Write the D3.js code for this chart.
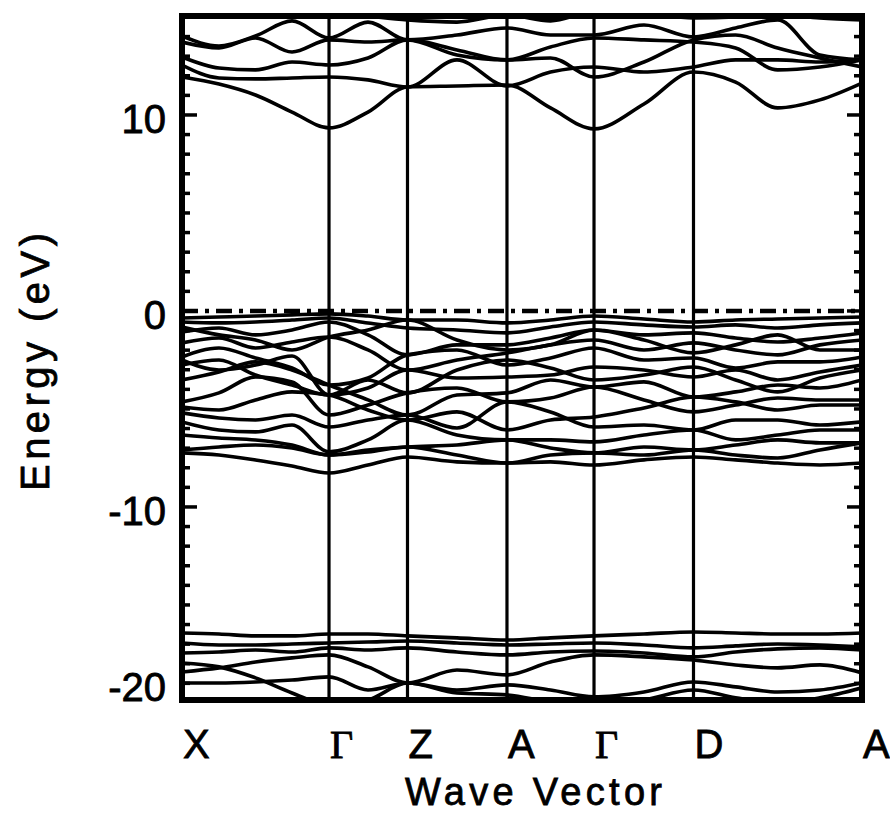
<!DOCTYPE html>
<html>
	<head>
		<meta charset="utf-8">
		<title>Band structure</title>
		<script src="https://d3js.org/d3.v7.min.js"></script>
		<style>
			body { margin: 0; background: #fff; }
			svg { display: block; }
		</style>
	</head>
	<body>

		<div class="main_div"></div>
		<script>

			// High symmetry points along the path (fraction of path length)
			var kLabels = ["X", "Γ", "Z", "A", "Γ", "D", "A"];
			var kPoints = [0, 0.2162, 0.3316, 0.4779, 0.6059, 0.7522, 1];

			var kGrid = [0, 0.0544, 0.1081, 0.1618, 0.2162, 0.2735, 0.3316, 0.4044, 0.4779,
						 0.5419, 0.6059, 0.6794, 0.7522, 0.8141, 0.8760, 0.9381, 1];

			// Conduction bands (eV)
			var cb1 = [11.94, 11.58, 11.02, 10.15, 9.34, 10.15, 11.43, 11.48, 11.53, 10.36, 9.29, 10.56, 12.19, 11.68, 10.36, 10.77, 11.63];
			var cb2 = [12.55, 11.89, 11.84, 11.89, 11.94, 11.79, 11.43, 12.81, 11.48, 12.19, 12.45, 12.19, 12.45, 12.81, 12.81, 12.70, 12.81];
			var cb3 = [12.96, 12.40, 12.30, 12.70, 12.55, 12.91, 13.83, 13.06, 12.81, 13.47, 13.93, 13.83, 13.72, 13.42, 12.30, 12.45, 12.81];
			var cb4 = [13.72, 13.42, 13.93, 13.21, 13.83, 13.72, 13.83, 13.32, 12.81, 12.91, 11.94, 12.70, 13.83, 14.08, 13.42, 12.91, 12.45];
			var cb5 = [14.03, 13.52, 14.03, 14.80, 13.93, 14.74, 13.83, 14.08, 14.44, 14.08, 14.08, 14.59, 13.98, 14.44, 14.85, 13.06, 12.81];
			var cb6 = [15.36, 15.26, 15.15, 15.10, 15.26, 15.05, 14.85, 14.74, 15.10, 14.80, 15.26, 15.15, 14.95, 15.00, 15.15, 14.95, 14.85];

			// Valence bands (eV)
			var v1  = [-0.36, -0.31, -0.26, -0.20, -0.15, -0.26, -0.46, -0.46, -0.61, -0.46, -0.26, -0.41, -0.56, -0.46, -0.41, -0.36, -0.31];
			var v2  = [-0.56, -0.61, -0.56, -0.46, -0.36, -0.61, -0.87, -0.97, -1.12, -0.82, -0.56, -0.71, -0.82, -0.71, -0.87, -0.71, -0.61];
			var v3  = [-1.07, -0.87, -1.22, -0.97, -0.56, -1.22, -2.24, -1.73, -1.73, -1.38, -0.97, -1.22, -1.12, -1.38, -1.58, -1.38, -1.12];
			var v4  = [-1.63, -1.38, -1.89, -1.58, -1.33, -1.99, -3.01, -2.50, -2.14, -1.73, -1.48, -1.99, -1.63, -1.99, -2.24, -1.73, -1.48];
			var v5  = [-2.35, -1.89, -2.40, -2.91, -3.78, -3.42, -2.24, -1.99, -2.76, -2.40, -1.89, -2.50, -2.40, -2.91, -2.60, -2.60, -2.35];
			var v6  = [-2.50, -3.01, -2.76, -2.30, -4.29, -3.93, -3.01, -3.42, -3.37, -3.27, -2.86, -3.01, -3.37, -3.01, -3.52, -3.11, -2.76];
			var v7  = [-3.52, -3.11, -2.60, -3.01, -3.78, -4.54, -5.31, -4.29, -4.18, -3.52, -3.88, -3.62, -4.39, -4.13, -3.78, -3.93, -3.52];
			var v8  = [-4.64, -4.18, -3.37, -3.62, -5.31, -4.80, -4.18, -3.93, -4.64, -4.44, -3.88, -4.54, -5.15, -4.80, -4.44, -4.54, -4.54];
			var v9  = [-4.90, -5.05, -4.54, -4.13, -4.29, -5.05, -5.56, -5.15, -6.07, -5.56, -5.41, -4.95, -4.39, -4.64, -5.05, -4.80, -4.80];
			var v10 = [-5.20, -5.46, -5.56, -5.31, -5.92, -5.56, -5.31, -5.97, -4.64, -5.15, -5.92, -5.82, -6.07, -5.56, -5.56, -5.82, -5.66];
			var v11 = [-5.66, -6.07, -6.17, -5.82, -7.19, -6.58, -5.56, -6.33, -6.58, -6.58, -6.68, -6.33, -6.07, -6.58, -6.33, -6.07, -6.07];
			var v12 = [-6.33, -6.48, -6.58, -6.84, -7.35, -7.09, -6.94, -6.84, -6.58, -6.99, -7.24, -6.94, -7.09, -6.84, -6.58, -6.73, -6.73];
			var v13 = [-7.09, -6.94, -6.84, -6.99, -7.35, -7.19, -6.94, -7.35, -7.76, -7.35, -7.24, -7.35, -7.09, -7.35, -7.50, -7.09, -6.73];
			var v14 = [-7.24, -7.35, -7.60, -7.91, -8.27, -7.86, -7.45, -7.70, -7.76, -7.70, -7.86, -7.60, -7.45, -7.60, -7.76, -7.86, -7.76];
			var v15 = [-0.82, -1.22, -1.48, -1.99, -1.33, -0.97, -0.46, -1.48, -1.99, -1.73, -0.97, -1.48, -2.14, -1.73, -1.22, -1.99, -1.99];
			var v16 = [-2.76, -2.50, -3.27, -3.78, -4.29, -3.52, -4.18, -3.01, -2.50, -2.91, -3.52, -3.27, -2.86, -3.52, -4.13, -3.42, -3.01];

			// Semicore bands (eV)
			var s1 = [-16.43, -16.48, -16.58, -16.58, -16.48, -16.48, -16.58, -16.68, -16.79, -16.68, -16.58, -16.48, -16.38, -16.43, -16.48, -16.48, -16.43];
			var s2 = [-16.94, -17.04, -17.04, -16.99, -16.94, -16.89, -16.84, -16.94, -17.04, -16.99, -16.94, -17.04, -17.19, -17.09, -16.99, -17.04, -17.14];
			var s3 = [-17.45, -17.40, -17.30, -17.40, -17.19, -17.30, -17.19, -17.40, -17.55, -17.40, -17.35, -17.45, -17.65, -17.40, -17.24, -17.19, -17.30];
			var s4 = [-18.42, -18.21, -17.91, -17.70, -17.55, -18.16, -18.98, -18.32, -18.57, -17.91, -17.55, -17.65, -17.81, -18.06, -18.21, -18.06, -18.47];
			var s5 = [-17.96, -18.16, -18.72, -19.49, -20.10, -19.85, -18.98, -19.34, -19.08, -19.34, -19.69, -19.44, -18.93, -19.18, -19.44, -19.34, -18.98];
			var s6 = [-18.98, -18.98, -18.93, -18.83, -18.67, -19.34, -18.98, -19.49, -19.59, -19.95, -20.15, -19.85, -19.34, -19.74, -20.00, -19.74, -19.23];

			var bands = [cb1, cb2, cb3, cb4, cb5, cb6,
						 v1, v2, v3, v4, v5, v6, v7, v8, v9, v10, v11, v12, v13, v14, v15, v16,
						 s1, s2, s3, s4, s5, s6];

			// Axis
			var yTickLabels = [10, 0, -10, -20];
			var yDomain = [-19.85, 15.05];
			var fermiLevel = 0;

			// Svg
			var W = 890, H = 815;
			var box = {left: 182, right: 862, top: 16, bottom: 700};
			var font = "'Liberation Sans', Arial, sans-serif";

			var svg = d3.select(".main_div")
						.append("svg")
						.attr("width", W)
						.attr("height", H)
						.style("background", "#fff");

			// Escalas
			var xScale = d3.scaleLinear().domain([0, 1]).range([box.left, box.right]);
			var yScale = d3.scaleLinear().domain(yDomain).range([box.bottom, box.top]);

			svg.append("clipPath").attr("id", "plotClip")
				.append("rect")
				.attr("x", box.left).attr("y", box.top)
				.attr("width", box.right - box.left).attr("height", box.bottom - box.top);

			var plot = svg.append("g").attr("clip-path", "url(#plotClip)");

			// vertical lines at high symmetry points
			plot.selectAll("line.kline").data(kPoints.slice(1, -1)).enter().append("line")
				.attr("class", "kline")
				.attr("x1", function(d){ return xScale(d); })
				.attr("x2", function(d){ return xScale(d); })
				.attr("y1", box.top).attr("y2", box.bottom)
				.attr("stroke", "#000").attr("stroke-width", 3.2);

			// bands
			var line = d3.line()
						.x(function(d, i){ return xScale(kGrid[i]); })
						.y(function(d){ return yScale(d); })
						.curve(d3.curveMonotoneX);

			plot.selectAll("path.band").data(bands).enter().append("path")
				.attr("class", "band")
				.attr("d", line)
				.attr("fill", "none")
				.attr("stroke", "#000")
				.attr("stroke-width", 3.6)
				.attr("stroke-linejoin", "round");

			// Fermi level (dash-dot)
			plot.append("line")
				.attr("x1", box.left).attr("x2", box.right)
				.attr("y1", yScale(fermiLevel)).attr("y2", yScale(fermiLevel))
				.attr("stroke", "#000").attr("stroke-width", 4.5)
				.attr("stroke-dasharray", "16,7,4,7");

			// ticks on left and right, 1 eV minor, 10 eV major
			var tickVals = d3.range(Math.ceil(yDomain[0]), Math.floor(yDomain[1]) + 1);
			var tickLen = function(d){ return d % 10 === 0 ? 15 : 8; };
			svg.selectAll("line.lt").data(tickVals).enter().append("line")
				.attr("x1", box.left).attr("x2", function(d){ return box.left + tickLen(d); })
				.attr("y1", function(d){ return yScale(d); }).attr("y2", function(d){ return yScale(d); })
				.attr("stroke", "#000").attr("stroke-width", 3.5);
			svg.selectAll("line.rt").data(tickVals).enter().append("line")
				.attr("x1", box.right).attr("x2", function(d){ return box.right - tickLen(d); })
				.attr("y1", function(d){ return yScale(d); }).attr("y2", function(d){ return yScale(d); })
				.attr("stroke", "#000").attr("stroke-width", 3.5);

			// frame
			svg.append("rect")
				.attr("x", box.left).attr("y", box.top)
				.attr("width", box.right - box.left).attr("height", box.bottom - box.top)
				.attr("fill", "none").attr("stroke", "#000").attr("stroke-width", 6);

			// y tick labels
			svg.selectAll("text.ylab").data(yTickLabels).enter().append("text")
				.attr("x", 166)
				.attr("y", function(d){ return Math.min(yScale(d) + 18, 701); })
				.attr("text-anchor", "end")
				.attr("stroke", "#000").attr("stroke-width", 0.8)
				.style("font-family", font).style("font-size", "40px")
				.text(function(d){ return d < 0 ? "-" + Math.abs(d) : d; });

			// k labels
			svg.selectAll("text.klab").data(kPoints).enter().append("text")
				.attr("x", function(d){ return xScale(d) + 1; })
				.attr("y", 758)
				.attr("text-anchor", "start")
				.attr("stroke", "#000").attr("stroke-width", 0.8)
				.style("font-family", function(d, i){ return kLabels[i] === "Γ" ? "'Liberation Serif', serif" : font; })
				.style("font-size", "40px")
				.text(function(d, i){ return kLabels[i]; });

			// axis titles
			svg.append("text")
				.attr("x", 405).attr("y", 805)
				.attr("textLength", 257).attr("lengthAdjust", "spacing")
				.attr("stroke", "#000").attr("stroke-width", 0.8)
				.style("font-family", font).style("font-size", "38px")
				.text("Wave Vector");

			svg.append("text")
				.attr("transform", "translate(49,362) rotate(-90)")
				.attr("text-anchor", "middle")
				.attr("textLength", 258).attr("lengthAdjust", "spacing")
				.attr("stroke", "#000").attr("stroke-width", 0.8)
				.style("font-family", font).style("font-size", "40px")
				.text("Energy (eV)");

		</script>
	</body>
</html>
